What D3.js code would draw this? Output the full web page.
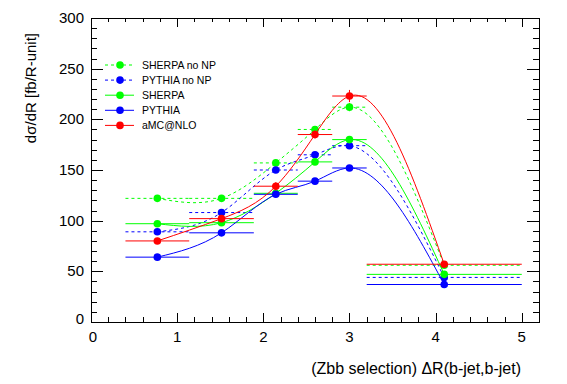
<!DOCTYPE html>
<html>
<head>
<meta charset="utf-8">
<script src="https://cdn.jsdelivr.net/npm/d3@7"></script>
<style>
  body { margin: 0; background: white; }
  text { font-family: "Liberation Sans", Arial, Helvetica, sans-serif; }
</style>
</head>
<body>
<svg width="567" height="384"></svg>
<script>
// bins in dR(b-jet,b-jet)
const binEdges = [0.4, 1.14, 1.89, 2.4, 2.8, 3.2, 5.0]
const binCenters = [0.77, 1.515, 2.145, 2.6, 3.0, 4.1]

// dsigma/dR per prediction
const sherpaNoNP = [122, 122, 157, 190, 212, 56]
const pythiaNoNP = [89, 108, 150, 165, 174, 44]
const sherpa = [97, 98, 127, 158, 180, 47]
const pythia = [64, 88, 126, 139, 152, 37]
const amcnlo = [80, 102, 134, 185, 223, 57]

// vertical errors
const sherpaNoNPErr = [2, 2, 3, 3, 4, 2]
const pythiaNoNPErr = [1, 2, 2, 2, 3, 1]
const sherpaErr = [2, 2, 2, 3, 3, 1]
const pythiaErr = [1, 2, 2, 2, 2, 1]
const amcnloErr = [3, 3, 4, 4, 6, 2]

const seriesNames = ['SHERPA no NP', 'PYTHIA no NP', 'SHERPA', 'PYTHIA', 'aMC@NLO']

const xTicks = [0, 1, 2, 3, 4, 5]
const yTicks = [0, 50, 100, 150, 200, 250, 300]

const series = [
  {name: seriesNames[0], y: sherpaNoNP, err: sherpaNoNPErr, color: '#00ff00', dash: '3,3'},
  {name: seriesNames[1], y: pythiaNoNP, err: pythiaNoNPErr, color: '#0000ff', dash: '3,3'},
  {name: seriesNames[2], y: sherpa, err: sherpaErr, color: '#00ff00', dash: null},
  {name: seriesNames[3], y: pythia, err: pythiaErr, color: '#0000ff', dash: null},
  {name: seriesNames[4], y: amcnlo, err: amcnloErr, color: '#ff0000', dash: null}
]

const padL = 91, padR = 539, padT = 18, padB = 322

const x = d3.scaleLinear().domain([0, 5.2]).range([padL, padR])
const y = d3.scaleLinear().domain([0, 300]).range([padB, padT])

// natural cubic spline as a function of x (like ROOT's smooth "C" option)
function curveNaturalX(context) {
  let xs, ys
  return {
    areaStart() {}, areaEnd() {},
    lineStart() { xs = []; ys = [] },
    point(px, py) { xs.push(+px); ys.push(+py) },
    lineEnd() {
      const n = xs.length - 1
      if (n < 0) return
      context.moveTo(xs[0], ys[0])
      if (n == 0) return
      const h = d3.range(n).map(i => xs[i + 1] - xs[i])
      // second derivatives, M[0] = M[n] = 0
      const M = new Array(n + 1).fill(0)
      const a = [], b = [], c = [], r = []
      for (let i = 1; i < n; i++) {
        a[i] = h[i - 1]; b[i] = 2 * (h[i - 1] + h[i]); c[i] = h[i]
        r[i] = 6 * ((ys[i + 1] - ys[i]) / h[i] - (ys[i] - ys[i - 1]) / h[i - 1])
      }
      for (let i = 2; i < n; i++) {
        const w = a[i] / b[i - 1]
        b[i] -= w * c[i - 1]; r[i] -= w * r[i - 1]
      }
      for (let i = n - 1; i >= 1; i--) {
        M[i] = (r[i] - (i < n - 1 ? c[i] * M[i + 1] : 0)) / b[i]
      }
      for (let i = 0; i < n; i++) {
        const s = (ys[i + 1] - ys[i]) / h[i]
        const m0 = s - h[i] * (2 * M[i] + M[i + 1]) / 6
        const m1 = s + h[i] * (M[i] + 2 * M[i + 1]) / 6
        context.bezierCurveTo(
          xs[i] + h[i] / 3, ys[i] + m0 * h[i] / 3,
          xs[i + 1] - h[i] / 3, ys[i + 1] - m1 * h[i] / 3,
          xs[i + 1], ys[i + 1])
      }
    }
  }
}

const svg = d3.select('svg')

//frame
svg.append('rect')
  .attr('x', padL + 0.5).attr('y', padT + 0.5)
  .attr('width', padR - padL).attr('height', padB - padT)
  .style('fill', 'none').style('stroke', 'black').style('stroke-width', 1)

const axes = svg.append('g').style('stroke', 'black').style('stroke-width', 1)

//x ticks bottom + top (pointing inside)
d3.range(0, 26).forEach(i => {
  const v = i * 0.2
  const major = i % 5 == 0
  const px = Math.round(x(v)) + 0.5
  axes.append('line')
    .attr('x1', px).attr('x2', px)
    .attr('y1', padB).attr('y2', padB - (major ? 9 : 5))
  axes.append('line')
    .attr('x1', px).attr('x2', px)
    .attr('y1', padT).attr('y2', padT + (major ? 9 : 4))
})

//y ticks left + right
d3.range(0, 31).forEach(i => {
  const v = i * 10
  const major = i % 5 == 0
  const py = Math.round(y(v)) + 0.5
  axes.append('line')
    .attr('x1', padL).attr('x2', padL + (major ? 12 : 6))
    .attr('y1', py).attr('y2', py)
  axes.append('line')
    .attr('x1', padR).attr('x2', padR - (major ? 12 : 6))
    .attr('y1', py).attr('y2', py)
})

//tick labels
svg.selectAll('.xlab').data(xTicks).enter().append('text')
  .attr('x', d => x(d) + (d == 0 ? 2 : 0))
  .attr('y', 342)
  .attr('text-anchor', 'middle')
  .style('font-size', '15px')
  .text(d => d)

svg.selectAll('.ylab').data(yTicks).enter().append('text')
  .attr('x', 84)
  .attr('y', d => y(d) + 5 - (d == 0 ? 3 : 0))
  .attr('text-anchor', 'end')
  .style('font-size', '15px')
  .text(d => d)

//axis titles
svg.append('text')
  .attr('x', 521).attr('y', 374)
  .attr('text-anchor', 'end')
  .style('font-size', '16px')
  .text('(Zbb selection) \u0394R(b-jet,b-jet)')

svg.append('text')
  .attr('transform', 'translate(36,33) rotate(-90)')
  .attr('text-anchor', 'end')
  .style('font-size', '15px')
  .text('d\u03c3/dR [fb/R-unit]')

//curves, error bars, markers
const line = d3.line()
  .x((d, i) => x(binCenters[i]))
  .y(d => y(d))
  .curve(curveNaturalX)

series.forEach(s => {
  const g = svg.append('g')
  g.append('path')
    .attr('d', line(s.y))
    .style('fill', 'none')
    .style('stroke', s.color)
    .style('stroke-width', 1)
    .style('stroke-dasharray', s.dash)

  s.y.forEach((v, i) => {
    g.append('line')
      .attr('x1', x(binEdges[i])).attr('x2', x(binEdges[i + 1]))
      .attr('y1', y(v)).attr('y2', y(v))
      .style('stroke', s.color)
      .style('stroke-dasharray', s.dash)
    g.append('line')
      .attr('x1', x(binCenters[i])).attr('x2', x(binCenters[i]))
      .attr('y1', y(v - s.err[i])).attr('y2', y(v + s.err[i]))
      .style('stroke', s.color)
  })

  g.selectAll('circle').data(s.y).enter().append('circle')
    .attr('cx', (d, i) => x(binCenters[i]))
    .attr('cy', d => y(d))
    .attr('r', 3.8)
    .style('fill', s.color)
})

//legend
const legend = svg.append('g')
series.forEach((s, i) => {
  const ly = 65 + i * 15.1
  legend.append('line')
    .attr('x1', 105).attr('x2', 134)
    .attr('y1', ly).attr('y2', ly)
    .style('stroke', s.color)
    .style('stroke-dasharray', s.dash)
  legend.append('circle')
    .attr('cx', 120).attr('cy', ly).attr('r', 3.8)
    .style('fill', s.color)
  legend.append('text')
    .attr('x', 142).attr('y', ly + 4)
    .style('font-size', '10.5px')
    .text(s.name)
})
</script>
</body>
</html>
